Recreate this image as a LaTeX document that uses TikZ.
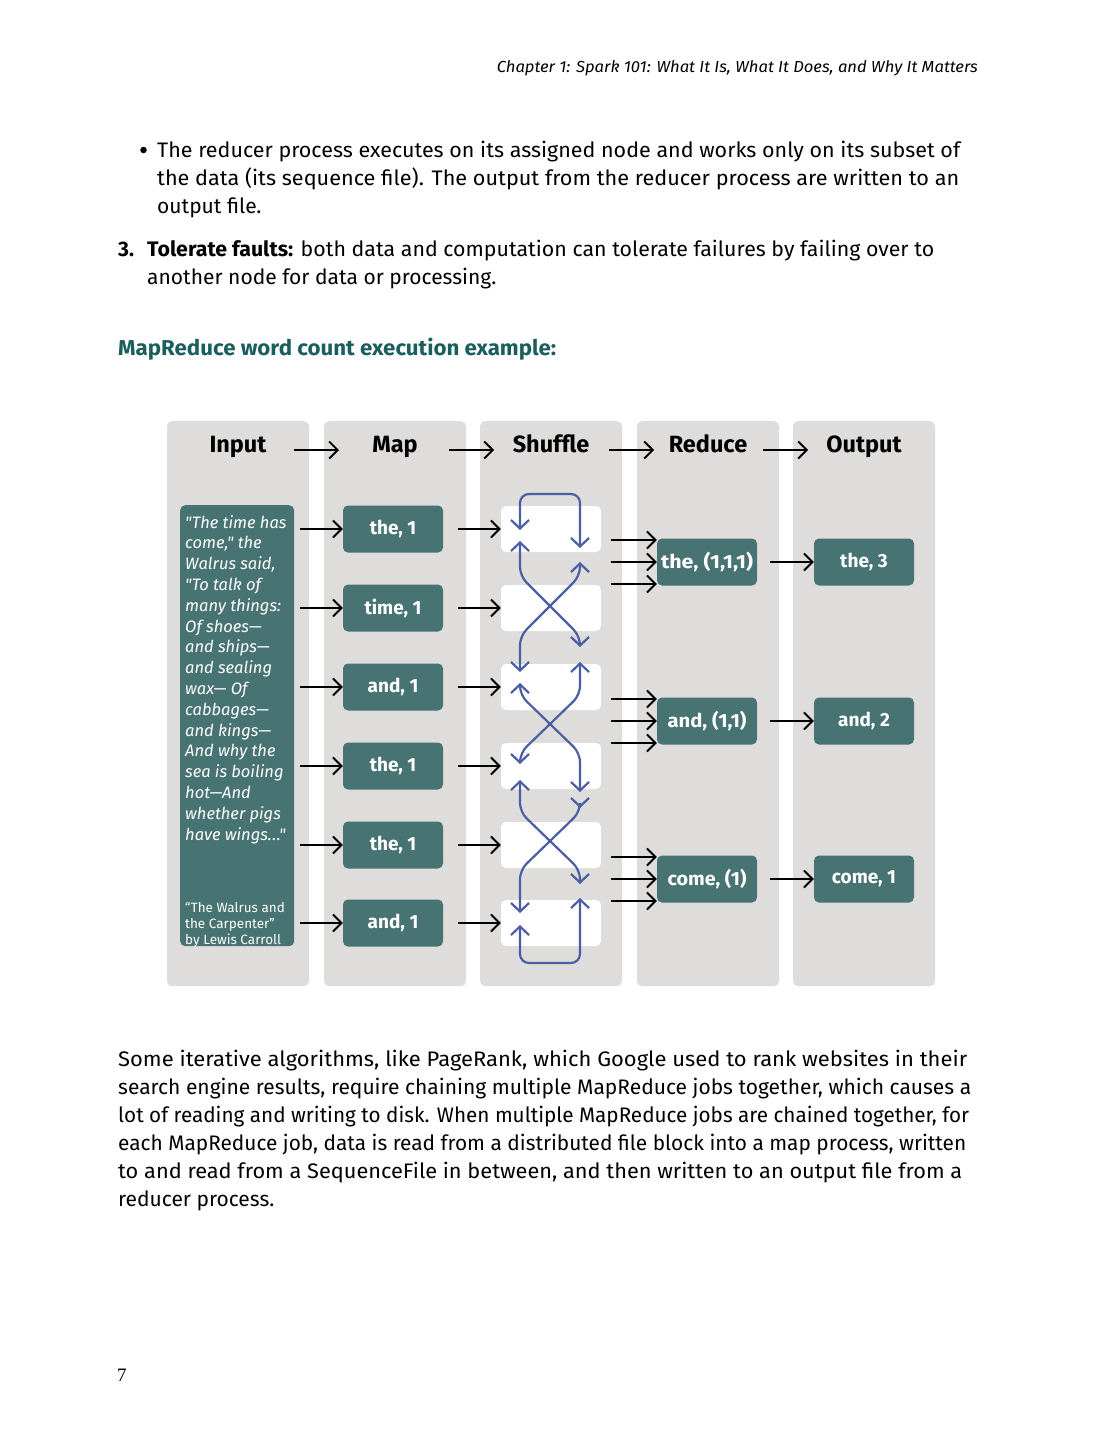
\documentclass[tikz,border=0pt]{standalone}
\usepackage{graphicx}
\usepackage{fontspec}
\setmainfont{Fira Sans}
\newfontfamily\poemfont{Fira Sans}[Ligatures=TeXOff]
\newfontfamily\pagenumfont{Liberation Serif}
\usetikzlibrary{arrows.meta}
\definecolor{colgray}{HTML}{DFDDDC}
\definecolor{tealbox}{HTML}{487373}
\definecolor{headteal}{HTML}{1B5E5E}
\definecolor{shufblue}{HTML}{4A5EA4}
\newcommand{\tdots}{.\kern0.5pt.\kern0.5pt.}
\newcommand{\fitw}[2]{\resizebox{#1}{\height}{#2}}
\begin{document}
\begin{tikzpicture}[x=1pt,y=-1pt,
  txt/.style={anchor=base west, inner sep=0pt, font=\fontsize{21}{28}\selectfont},
  colbox/.style={fill=colgray, rounded corners=5pt, minimum width=142pt, minimum height=565pt, anchor=north, inner sep=0pt},
  colhead/.style={anchor=base, inner sep=0pt, font=\fontsize{23.5}{26}\selectfont\bfseries},
  tbox/.style={fill=tealbox, rounded corners=5pt, text=white, minimum width=100pt, minimum height=47pt, inner sep=0pt, font=\fontsize{19}{20}\selectfont\bfseries},
  wbox/.style={fill=white, rounded corners=5pt, minimum width=100pt, minimum height=46pt, inner sep=0pt},
  arr/.style={-{Straight Barb[length=8.5pt,width=17pt]}, line width=1.9pt, black},
  sh/.style={{Straight Barb[length=8.5pt,width=18pt]}-{Straight Barb[length=8.5pt,width=18pt]}, line width=2.2pt, shufblue, rounded corners=9pt},
  poem/.style={anchor=base west, inner sep=0pt, text=white, font=\poemfont\fontsize{16.5}{20}\selectfont\itshape},
  cite/.style={anchor=base west, inner sep=0pt, text=white, font=\fontsize{13.5}{16}\selectfont}
]
\fill[white] (0,0) rectangle (1097,1440);
\useasboundingbox (0,0) rectangle (1097,1440);

% running header
\node[anchor=base east, inner sep=0pt, font=\fontsize{16}{18}\selectfont\itshape] (runhead) at (978,72) {\fitw{481pt}{Chapter 1: Spark 101: What It Is, What It Does, and Why It Matters}};

% bullet text
\node[circle, fill=black, inner sep=0pt, minimum size=6.5pt] (bul) at (143.5,150) {};
\node[txt] (b1) at (157,157) {\fitw{803pt}{The reducer process executes on its assigned node and works only on its subset of}};
\node[txt] (b2) at (157,185) {\fitw{802pt}{the data (its sequence file). The output from the reducer process are written to an}};
\node[txt] (b3) at (157,213) {output file.};
\node[txt, font=\fontsize{21}{28}\selectfont\bfseries] (n3num) at (118,256) {3.};
\node[txt] (n3) at (147,256) {\fitw{787pt}{\textbf{Tolerate faults:} both data and computation can tolerate failures by failing over to}};
\node[txt] (n3b) at (147,284) {another node for data or processing.};

% heading
\node[txt, font=\fontsize{21.5}{24}\selectfont\bfseries, text=headteal] (title) at (118,355) {\fitw{438pt}{MapReduce word count execution example:}};

% columns
\node[colbox] (cIn) at (238,421) {};
\node[colbox] (cMap) at (395,421) {};
\node[colbox] (cSh) at (551,421) {};
\node[colbox] (cRed) at (708,421) {};
\node[colbox] (cOut) at (864,421) {};

\node[colhead] (hIn) at (238,452) {Input};
\node[colhead] (hMap) at (395,452) {Map};
\node[colhead] (hSh) at (551,452) {Shuffle};
\node[colhead] (hRed) at (708,452) {Reduce};
\node[colhead] (hOut) at (864,452) {Output};

\coordinate (ha0) at (294,450); \coordinate (ha1) at (339,450);
\coordinate (hb0) at (449,450); \coordinate (hb1) at (494,450);
\coordinate (hc0) at (609,450); \coordinate (hc1) at (654,450);
\coordinate (hd0) at (763,450); \coordinate (hd1) at (808,450);
\draw[arr] (ha0) -- (ha1);
\draw[arr] (hb0) -- (hb1);
\draw[arr] (hc0) -- (hc1);
\draw[arr] (hd0) -- (hd1);

% input box
\node[fill=tealbox, rounded corners=5pt, minimum width=114pt, minimum height=441pt, anchor=north west, inner sep=0pt] (inp) at (180,505) {};
\foreach \t [count=\i from 0] in {"The time has, {come," the}, {Walrus said,}, "To talk of, {many things:}, Of shoes—, and ships—, and sealing, wax— Of, cabbages—, and kings—, And why the, sea is boiling, hot—And, whether pigs, {have wings\tdots"}}
  \node[poem] (pl\i) at (185,{528+20.8*\i}) {\t};
\node[cite] (ct1) at (185,912) {“The Walrus and};
\node[cite] (ct2) at (185,928) {the Carpenter”};
\node[cite] (ct3) at (185,944) {by Lewis Carroll};

% map boxes
\node[tbox] (m1) at (393,529) {the, 1};
\node[tbox] (m2) at (393,608) {time, 1};
\node[tbox] (m3) at (393,687) {and, 1};
\node[tbox] (m4) at (393,766) {the, 1};
\node[tbox] (m5) at (393,845) {the, 1};
\node[tbox] (m6) at (393,923) {and, 1};

% shuffle boxes
\node[wbox] (s1) at (551,529) {};
\node[wbox] (s2) at (551,608) {};
\node[wbox] (s3) at (551,687) {};
\node[wbox] (s4) at (551,766) {};
\node[wbox] (s5) at (551,845) {};
\node[wbox] (s6) at (551,923) {};

\foreach \k in {1,2,3,4,5,6}{
  \draw[arr] ([xshift=6pt]inp.east |- m\k.west) -- (m\k.west);
  \draw[arr] ([xshift=15pt]m\k.east) -- (s\k.west);
}

% shuffle lines
\draw[sh] (520,530) -- (520,494) -- (580,494) -- (580,548);
\draw[sh] (520,541) -- (520,576) -- (580,636) -- (580,647);
\draw[sh] (580,562) -- (580,576) -- (520,636) -- (520,672);
\draw[sh] (580,662) -- (580,695) -- (520,753) -- (520,764);
\draw[sh] (520,683) -- (520,695) -- (580,753) -- (580,792);
\draw[sh] (520,780) -- (520,812) -- (580,870) -- (580,884);
\draw[sh] (580,808) -- (580,812) -- (520,870) -- (520,913);
\draw[sh] (520,925) -- (520,963) -- (580,963) -- (580,898);

% reduce boxes
\node[tbox] (r1) at (707,562) {\fitw{92pt}{the, (1,1,1)}};
\node[tbox] (r2) at (707,721) {\fitw{79pt}{and, (1,1)}};
\node[tbox] (r3) at (707,879) {\fitw{79pt}{come, (1)}};
% output boxes
\node[tbox] (o1) at (864,562) {the, 3};
\node[tbox] (o2) at (864,721) {and, 2};
\node[tbox] (o3) at (864,879) {come, 1};

\foreach \k in {1,2,3}{
  \draw[arr] ([xshift=-46pt,yshift=22pt]r\k.west) -- ([yshift=22pt]r\k.west);
  \draw[arr] ([xshift=-46pt]r\k.west) -- (r\k.west);
  \draw[arr] ([xshift=-46pt,yshift=-22pt]r\k.west) -- ([yshift=-22pt]r\k.west);
  \draw[arr] ([xshift=13pt]r\k.east) -- (o\k.west);
}

% paragraph
\node[txt] (p1) at (118,1066) {\fitw{849pt}{Some iterative algorithms, like PageRank, which Google used to rank websites in their}};
\node[txt] (p2) at (118,1094) {\fitw{853pt}{search engine results, require chaining multiple MapReduce jobs together, which causes a}};
\node[txt] (p3) at (118,1122) {\fitw{851pt}{lot of reading and writing to disk. When multiple MapReduce jobs are chained together, for}};
\node[txt] (p4) at (118,1150) {\fitw{848pt}{each MapReduce job, data is read from a distributed file block into a map process, written}};
\node[txt] (p5) at (118,1178) {\fitw{844pt}{to and read from a SequenceFile in between, and then written to an output file from a}};
\node[txt] (p6) at (118,1206) {reducer process.};

\node[anchor=base west, inner sep=0pt, font=\pagenumfont\fontsize{19}{22}\selectfont] (pg) at (117,1381) {7};
\end{tikzpicture}
\end{document}
